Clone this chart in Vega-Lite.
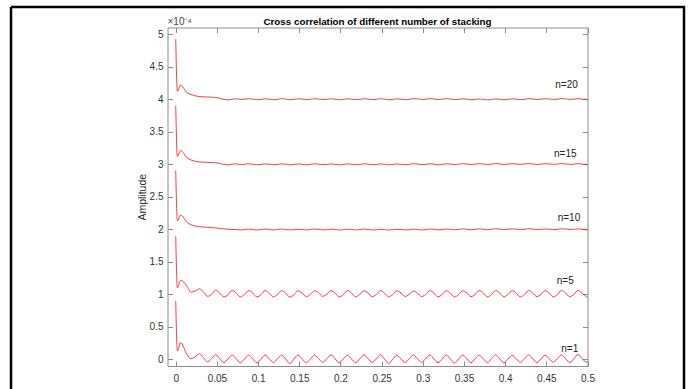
{
"$schema":"https://vega.github.io/schema/vega-lite/v6.json",
"width":673,"height":382,
"autosize":"none",
"padding":{"left":11,"top":7,"right":4,"bottom":0},
"background":"white",
"title":{"text":"Cross correlation of different number of stacking","fontSize":9.8,"fontWeight":"bold","font":"Liberation Sans","color":"black","anchor":"middle","frame":"group","offset":-25,"baseline":"middle","dx":30},
"datasets":{
"curves":[
{"x":0,"a":0.9,"b":1.89,"c":2.9,"d":3.9,"e":4.92},
{"x":0.002,"a":0.13,"b":1.1,"c":2.13,"d":3.12,"e":4.12},
{"x":0.006,"a":0.26,"b":1.215,"c":2.22,"d":3.21,"e":4.215},
{"x":0.0135,"a":0.08,"b":1.13,"c":2.11,"d":3.1,"e":4.1},
{"x":0.0185,"a":0.012,"b":1.035,"c":2.07,"d":3.065,"e":4.07},
{"x":0.0235,"a":0.04,"b":1.05,"c":2.05,"d":3.045,"e":4.05},
{"x":0.0285,"a":0.088,"b":1.085,"c":2.04,"d":3.035,"e":4.04},
{"x":0.0335,"a":0.03,"b":1.04,"c":2.035,"d":3.03,"e":4.035},
{"x":0.0385,"a":-0.035,"b":0.97,"c":2.03,"d":3.028,"e":4.033},
{"x":0.0435,"a":0.015,"b":1.0,"c":2.025,"d":3.026,"e":4.03},
{"x":0.0485,"a":0.075,"b":1.065,"c":2.02,"d":3.022,"e":4.025},
{"x":0.0535,"a":0.012,"b":1.02,"c":2.015,"d":3.012,"e":4.012},
{"x":0.0585,"a":-0.048,"b":0.96,"c":2.008,"d":2.995,"e":3.995},
{"x":0.0635,"a":0.008,"b":0.995,"c":2.0,"d":2.99,"e":3.988},
{"x":0.0685,"a":0.07,"b":1.06,"c":1.998,"d":3.0,"e":3.998},
{"x":0.0735,"a":0.01,"b":1.02,"c":1.995,"d":3.005,"e":4.005},
{"x":0.0785,"a":-0.05,"b":0.962,"c":1.99,"d":2.995,"e":3.995},
{"x":0.0835,"a":0.006,"b":1.0,"c":1.995,"d":2.998,"e":3.998},
{"x":0.0885,"a":0.068,"b":1.058,"c":2.002,"d":3.006,"e":4.006},
{"x":0.0935,"a":0.008,"b":1.02,"c":1.998,"d":3.0,"e":4.0},
{"x":0.0985,"a":-0.052,"b":0.96,"c":1.99,"d":2.992,"e":3.99},
{"x":0.1035,"a":0.005,"b":0.995,"c":1.996,"d":2.996,"e":3.995},
{"x":0.1085,"a":0.07,"b":1.06,"c":2.004,"d":3.004,"e":4.004},
{"x":0.1135,"a":0.012,"b":1.018,"c":1.998,"d":3.0,"e":4.0},
{"x":0.1185,"a":-0.045,"b":0.962,"c":1.99,"d":2.992,"e":3.99},
{"x":0.1235,"a":0.01,"b":0.998,"c":1.995,"d":2.996,"e":3.996},
{"x":0.1285,"a":0.068,"b":1.058,"c":2.003,"d":3.005,"e":4.006},
{"x":0.1335,"a":0.008,"b":1.02,"c":1.997,"d":3.0,"e":4.0},
{"x":0.1385,"a":-0.062,"b":0.958,"c":1.992,"d":2.99,"e":3.99},
{"x":0.1435,"a":0.004,"b":0.995,"c":1.994,"d":2.996,"e":3.995},
{"x":0.1485,"a":0.07,"b":1.056,"c":2.0,"d":3.004,"e":4.004},
{"x":0.1535,"a":0.01,"b":1.02,"c":1.996,"d":2.998,"e":4.0},
{"x":0.1585,"a":-0.05,"b":0.965,"c":1.99,"d":2.992,"e":3.992},
{"x":0.1635,"a":0.006,"b":1.0,"c":1.996,"d":2.998,"e":3.998},
{"x":0.1685,"a":0.068,"b":1.055,"c":2.004,"d":3.006,"e":4.006},
{"x":0.1735,"a":0.012,"b":1.025,"c":2.0,"d":3.0,"e":4.0},
{"x":0.1785,"a":-0.042,"b":0.97,"c":1.992,"d":2.994,"e":3.994},
{"x":0.1835,"a":0.012,"b":1.005,"c":1.994,"d":2.996,"e":3.996},
{"x":0.1885,"a":0.072,"b":1.058,"c":2.002,"d":3.004,"e":4.004},
{"x":0.1935,"a":0.01,"b":1.02,"c":1.996,"d":2.998,"e":3.998},
{"x":0.1985,"a":-0.05,"b":0.96,"c":1.988,"d":2.99,"e":3.99},
{"x":0.2035,"a":0.008,"b":0.996,"c":1.994,"d":2.996,"e":3.996},
{"x":0.2085,"a":0.066,"b":1.06,"c":2.0,"d":3.004,"e":4.004},
{"x":0.2135,"a":0.006,"b":1.022,"c":1.998,"d":3.0,"e":4.0},
{"x":0.2185,"a":-0.052,"b":0.962,"c":1.99,"d":2.992,"e":3.992},
{"x":0.2235,"a":0.01,"b":1.0,"c":1.996,"d":2.996,"e":3.996},
{"x":0.2285,"a":0.072,"b":1.055,"c":2.003,"d":3.006,"e":4.006},
{"x":0.2335,"a":0.014,"b":1.02,"c":1.998,"d":3.0,"e":4.0},
{"x":0.2385,"a":-0.046,"b":0.965,"c":1.99,"d":2.992,"e":3.992},
{"x":0.2435,"a":0.008,"b":0.998,"c":1.992,"d":2.996,"e":3.996},
{"x":0.2485,"a":0.074,"b":1.058,"c":2.0,"d":3.004,"e":4.006},
{"x":0.2535,"a":0.008,"b":1.018,"c":1.995,"d":2.998,"e":4.0},
{"x":0.2585,"a":-0.062,"b":0.962,"c":1.988,"d":2.99,"e":3.99},
{"x":0.2635,"a":0.004,"b":0.998,"c":1.993,"d":2.995,"e":3.994},
{"x":0.2685,"a":0.066,"b":1.055,"c":2.0,"d":3.004,"e":4.004},
{"x":0.2735,"a":0.01,"b":1.025,"c":1.996,"d":2.998,"e":3.998},
{"x":0.2785,"a":-0.048,"b":0.968,"c":1.99,"d":2.992,"e":3.99},
{"x":0.2835,"a":0.01,"b":1.0,"c":1.994,"d":2.998,"e":3.996},
{"x":0.2885,"a":0.07,"b":1.052,"c":2.002,"d":3.008,"e":4.008},
{"x":0.2935,"a":0.012,"b":1.02,"c":1.996,"d":3.002,"e":4.004},
{"x":0.2985,"a":-0.044,"b":0.966,"c":1.99,"d":2.994,"e":3.996},
{"x":0.3035,"a":0.012,"b":1.0,"c":1.996,"d":2.998,"e":3.998},
{"x":0.3085,"a":0.07,"b":1.058,"c":2.004,"d":3.006,"e":4.008},
{"x":0.3135,"a":0.008,"b":1.02,"c":1.998,"d":3.0,"e":4.002},
{"x":0.3185,"a":-0.05,"b":0.962,"c":1.992,"d":2.992,"e":3.994},
{"x":0.3235,"a":0.008,"b":0.998,"c":1.996,"d":2.998,"e":3.998},
{"x":0.3285,"a":0.068,"b":1.056,"c":2.004,"d":3.006,"e":4.008},
{"x":0.3335,"a":0.008,"b":1.02,"c":2.0,"d":3.0,"e":4.002},
{"x":0.3385,"a":-0.054,"b":0.96,"c":1.994,"d":2.994,"e":3.992},
{"x":0.3435,"a":0.006,"b":0.996,"c":1.998,"d":3.0,"e":3.996},
{"x":0.3485,"a":0.07,"b":1.055,"c":2.006,"d":3.008,"e":4.004},
{"x":0.3535,"a":0.01,"b":1.02,"c":2.0,"d":3.002,"e":4.0},
{"x":0.3585,"a":-0.048,"b":0.965,"c":1.994,"d":2.996,"e":3.99},
{"x":0.3635,"a":0.01,"b":1.0,"c":1.998,"d":3.0,"e":3.994},
{"x":0.3685,"a":0.066,"b":1.058,"c":2.006,"d":3.008,"e":4.002},
{"x":0.3735,"a":0.01,"b":1.022,"c":2.0,"d":3.002,"e":3.996},
{"x":0.3785,"a":-0.046,"b":0.96,"c":1.995,"d":2.996,"e":3.988},
{"x":0.3835,"a":0.012,"b":0.998,"c":2.0,"d":3.0,"e":3.994},
{"x":0.3885,"a":0.072,"b":1.06,"c":2.008,"d":3.01,"e":4.002},
{"x":0.3935,"a":0.01,"b":1.02,"c":2.002,"d":3.004,"e":3.998},
{"x":0.3985,"a":-0.05,"b":0.962,"c":1.996,"d":2.996,"e":3.99},
{"x":0.4035,"a":0.006,"b":1.0,"c":2.0,"d":3.0,"e":3.996},
{"x":0.4085,"a":0.066,"b":1.058,"c":2.006,"d":3.008,"e":4.004},
{"x":0.4135,"a":0.01,"b":1.02,"c":2.002,"d":3.004,"e":4.0},
{"x":0.4185,"a":-0.044,"b":0.962,"c":1.996,"d":2.998,"e":3.992},
{"x":0.4235,"a":0.014,"b":0.998,"c":2.0,"d":3.002,"e":3.996},
{"x":0.4285,"a":0.072,"b":1.06,"c":2.008,"d":3.01,"e":4.006},
{"x":0.4335,"a":0.012,"b":1.022,"c":2.004,"d":3.004,"e":4.002},
{"x":0.4385,"a":-0.048,"b":0.966,"c":1.996,"d":2.996,"e":3.994},
{"x":0.4435,"a":0.008,"b":1.0,"c":2.0,"d":3.0,"e":3.998},
{"x":0.4485,"a":0.064,"b":1.058,"c":2.006,"d":3.008,"e":4.006},
{"x":0.4535,"a":0.012,"b":1.02,"c":2.002,"d":3.004,"e":4.002},
{"x":0.4585,"a":-0.04,"b":0.96,"c":1.995,"d":2.998,"e":3.995},
{"x":0.4635,"a":0.014,"b":0.998,"c":2.0,"d":3.002,"e":3.998},
{"x":0.4685,"a":0.07,"b":1.062,"c":2.008,"d":3.01,"e":4.008},
{"x":0.4735,"a":0.012,"b":1.022,"c":2.004,"d":3.004,"e":4.002},
{"x":0.4785,"a":-0.048,"b":0.962,"c":1.998,"d":2.998,"e":3.996},
{"x":0.4835,"a":0.012,"b":1.0,"c":2.0,"d":3.0,"e":4.0},
{"x":0.4885,"a":0.075,"b":1.06,"c":2.006,"d":3.008,"e":4.006},
{"x":0.4935,"a":0.012,"b":1.02,"c":2.0,"d":3.002,"e":4.0},
{"x":0.4985,"a":-0.04,"b":0.965,"c":1.995,"d":2.998,"e":3.996},
{"x":0.5,"a":-0.03,"b":0.955,"c":1.985,"d":2.99,"e":3.99}
],
"labels":[
{"x":0.4745,"y":4.215,"t":"n=20"},
{"x":0.473,"y":3.15,"t":"n=15"},
{"x":0.4775,"y":2.17,"t":"n=10"},
{"x":0.473,"y":1.2,"t":"n=5"},
{"x":0.4785,"y":0.154,"t":"n=1"}
],
"expo":[{"x":-0.01,"y":5.1,"t":"×10⁻⁴"}]
},
"resolve":{"axis":{"x":"independent","y":"independent"}},
"layer":[
{"data":{"name":"curves"},
 "transform":[{"fold":["a","b","c","d","e"],"as":["s","y"]}],
 "mark":{"type":"line","color":"#f01010","strokeWidth":0.8,"interpolate":"monotone"},
 "encoding":{
  "x":{"field":"x","type":"quantitative","scale":{"domain":[-0.01,0.5],"range":[156.5,576.5],"nice":false,"zero":false},
   "axis":{"orient":"bottom","offset":-23,"values":[0,0.05,0.1,0.15,0.2,0.25,0.3,0.35,0.4,0.45,0.5],"format":"~g","title":null,"tickSize":-5,"labelPadding":12}},
  "y":{"field":"y","type":"quantitative","scale":{"domain":[-0.1,5.1],"range":[359,20.5],"nice":false,"zero":false},
   "axis":{"orient":"left","offset":-156.5,"values":[0,0.5,1,1.5,2,2.5,3,3.5,4,4.5,5],"format":"~g","title":"Amplitude","tickSize":-5,"labelPadding":9.5,"titlePadding":2}},
  "detail":{"field":"s"}
 }},
{"data":{"name":"labels"},
 "mark":{"type":"text","fontSize":10,"color":"#222222","align":"center","baseline":"middle"},
 "encoding":{
  "x":{"field":"x","type":"quantitative","scale":{"domain":[-0.01,0.5],"range":[156.5,576.5],"nice":false,"zero":false},
   "axis":{"orient":"top","offset":-20.5,"values":[0,0.05,0.1,0.15,0.2,0.25,0.3,0.35,0.4,0.45,0.5],"labels":false,"title":null,"tickSize":-5}},
  "y":{"field":"y","type":"quantitative","scale":{"domain":[-0.1,5.1],"range":[359,20.5],"nice":false,"zero":false},
   "axis":{"orient":"right","offset":-96.5,"values":[0,0.5,1,1.5,2,2.5,3,3.5,4,4.5,5],"labels":false,"title":null,"tickSize":-5}},
  "text":{"field":"t"}
 }},
{"data":{"name":"expo"},
 "mark":{"type":"text","fontSize":10,"color":"#444444","align":"left","baseline":"bottom","dy":-1},
 "encoding":{
  "x":{"field":"x","type":"quantitative","axis":null},
  "y":{"field":"y","type":"quantitative","axis":null},
  "text":{"field":"t"}
 }}
],
"config":{
 "font":"Liberation Sans",
 "view":{"stroke":"black","strokeWidth":2.5,"strokeDash":[1055,673,382,0],"fill":"white"},
 "axis":{"grid":false,"domainColor":"#8c8c8c","tickColor":"#8c8c8c","labelColor":"#333333","labelFontSize":10,"labelFlush":false,"labelOverlap":false,"labelBound":false,"titleFontWeight":"normal","titleColor":"#262626","titleFontSize":10.5,"titleFont":"Liberation Sans","labelFont":"Liberation Sans"}
}
}
